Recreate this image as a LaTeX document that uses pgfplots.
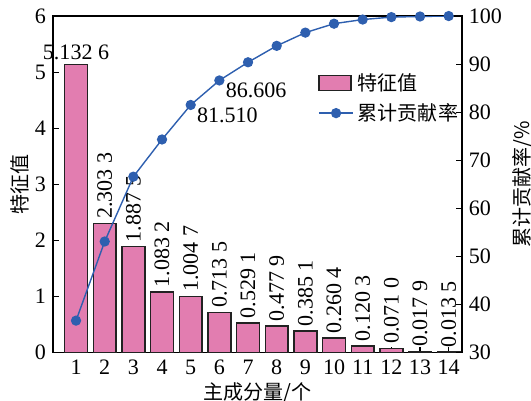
\documentclass[border=0pt]{standalone}
\usepackage{fontspec}
\setmainfont{Liberation Serif}
\newfontfamily\cjk{Noto Sans CJK SC}
\usepackage{pgfplots}
\pgfplotsset{compat=1.18}
\definecolor{barpink}{HTML}{E27DB0}
\definecolor{lineblue}{HTML}{2E5FAF}
\definecolor{axisgray}{HTML}{222222}

\newcommand{\numfont}{\fontsize{11}{13}\selectfont}
\newcommand{\hanfont}{\cjk\fontsize{10}{12}\selectfont}
\pgfplotsset{
  common/.style={
    scale only axis, width=204pt, height=168pt,
    xmin=0.2, xmax=14.46,
    /pgf/number format/assume math mode=true,
    tick label style={font=\numfont},
    label style={font=\hanfont},
    major tick length=3pt,
    axis line style={line width=0.7pt, black},
    tick style={line width=0.6pt, black},
  }
}

\begin{document}
\begin{tikzpicture}
% fixed frame around the axis box (axis box: 204pt x 168pt at the origin)
\path[use as bounding box] (-26.5pt,-24pt) rectangle (238.5pt,176pt);
% eigenvalues of the principal components
\begin{axis}[
  common,
  ymin=0, ymax=6, ytick={0,1,...,6},
  xtick={1,...,14}, xtick pos=bottom, ytick pos=left,
  xlabel={主成分量/个}, ylabel={特征值},
  xlabel style={yshift=3pt},
  ylabel style={at={(rel axis cs:-0.081,0.5)}, anchor=center},
  clip=false,
]
\addplot[ybar, bar width=0.8, fill=barpink, draw=axisgray, line width=0.7pt,
  nodes near coords, point meta=explicit symbolic,
  nodes near coords style={font=\numfont, anchor=south, inner sep=2pt}]
  coordinates {(1,5.1326) [5.132\ 6]};
\addplot[ybar, bar width=0.8, fill=barpink, draw=axisgray, line width=0.7pt,
  nodes near coords, point meta=explicit symbolic,
  nodes near coords style={font=\numfont, rotate=90, anchor=west, inner sep=2pt}]
  coordinates {
    (2,2.3033) [2.303\ 3]
    (3,1.8875) [1.887\ 5]
    (4,1.0832) [1.083\ 2]
    (5,1.0047) [1.004\ 7]
    (6,0.7135) [0.713\ 5]
    (7,0.5291) [0.529\ 1]
    (8,0.4779) [0.477\ 9]
    (9,0.3851) [0.385\ 1]
    (10,0.2604) [0.260\ 4]
    (11,0.1203) [0.120\ 3]
    (12,0.0710) [0.071\ 0]
    (13,0.0179) [0.017\ 9]
    (14,0.0135) [0.013\ 5]
  };
\end{axis}
% cumulative contribution rate
\begin{axis}[
  common,
  ymin=30, ymax=100, ytick={30,40,...,100},
  axis x line=none, axis y line*=right,
  ylabel={累计贡献率/\%},
  ylabel style={at={(rel axis cs:1.1495,0.5)}, anchor=center},
  legend style={at={(0.633,0.855)}, anchor=north west, draw=none, fill=none,
    font=\hanfont, row sep=1pt},
  legend cell align=left,
]
\addlegendimage{legend image code/.code={\draw[fill=barpink, draw=axisgray, line width=0.7pt] (0cm,-0.13cm) rectangle (0.56cm,0.13cm);}}
\addlegendentry{特征值}
\addplot[lineblue, line width=0.7pt, mark=*, mark size=2.2pt, mark options={fill=lineblue, draw=lineblue}]
  coordinates {
    (1,36.661) (2,53.114) (3,66.596) (4,74.333) (5,81.510) (6,86.606)
    (7,90.385) (8,93.799) (9,96.549) (10,98.409) (11,99.269) (12,99.776)
    (13,99.904) (14,100.000)
  };
\addlegendentry{累计贡献率}
\addplot[draw=none, forget plot, nodes near coords, point meta=explicit symbolic,
  nodes near coords style={font=\numfont, anchor=north west, inner sep=1pt, xshift=2pt}]
  coordinates {(5,81.510) [81.510] (6,86.606) [86.606]};
\end{axis}
\end{tikzpicture}
\end{document}
